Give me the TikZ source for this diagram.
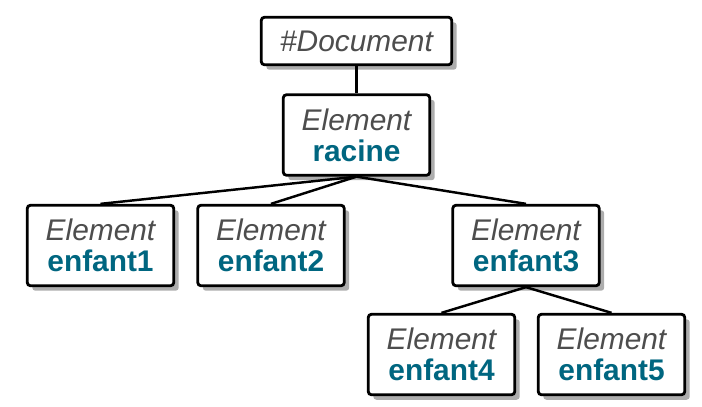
\documentclass[tikz,border=0pt]{standalone}
\usepackage{fontspec}
\setmainfont{Liberation Sans}
\usepackage{tikz}
\usetikzlibrary{arrows.meta}
\usetikzlibrary{positioning,shadows}
\definecolor{elemgray}{RGB}{77,77,77}
\definecolor{elemteal}{RGB}{0,102,128}
\newcommand{\elem}[1]{{\color{elemgray}\itshape Element}\\{\color{elemteal}\bfseries #1}}

\begin{document}
\begin{tikzpicture}[x=0.02cm,y=-0.02cm]
		\useasboundingbox (0,0) rectangle (702,406);
		\begin{scope}[every node/.style={rectangle,draw=black,line width=1.6pt,rounded corners=1.8pt,fill=white,
			drop shadow={shadow xshift=0.1cm,shadow yshift=-0.1cm,fill=black!32,opacity=1},
			align=center,inner sep=0pt,minimum width=2.93cm,minimum height=1.61cm,
			font=\fontsize{17}{17.6}\selectfont}]
			\node[minimum width=3.81cm,minimum height=0.95cm] (doc) at (356.5,41) {\color{elemgray}\itshape\#Document};
			\node (racine) at (356.5,135) {\elem{racine}};

			\node (e1) at (100.5,245.5) {\elem{enfant1}};
			\node (e2) at (271,245.5) {\elem{enfant2}};
			\node (e3) at (526,245.5) {\elem{enfant3}};

			\node (e4) at (441.5,354.5) {\elem{enfant4}};
			\node (e5) at (611.5,354.5) {\elem{enfant5}};
		\end{scope}
		\begin{scope}[line width=1.4pt]
			\path (doc) edge (racine);

			\path (racine.south) edge (e1.north);
			\path (racine.south) edge (e2.north);
			\path (racine.south) edge (e3.north);

			\path (e3.south) edge (e4.north);
			\path (e3.south) edge (e5.north);
		\end{scope}
	\end{tikzpicture}
\end{document}
